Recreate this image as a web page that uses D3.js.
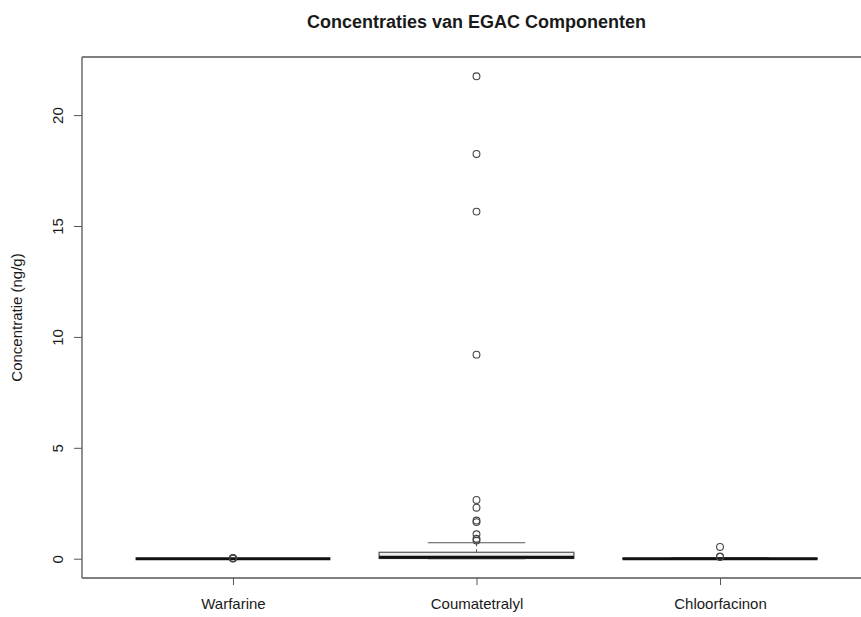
<!DOCTYPE html>
<html>
<head>
<meta charset="utf-8">
<script src="https://cdn.jsdelivr.net/npm/d3@7"></script>
<style>
  body { margin: 0; background: #fff; overflow: hidden; }
  svg { display: block; }
  text { font-family: "Liberation Sans", Arial, sans-serif; fill: #1a1a1a; }
</style>
</head>
<body>
<div id="chart"></div>
<script>
// boxplot summary per component
const categories = ['Warfarine', 'Coumatetralyl', 'Chloorfacinon'];
const whiskerLow = [0, 0, 0];
const q1s = [0, 0.01, 0];
const medians = [0, 0.07, 0];
const q3s = [0, 0.29, 0.01];
const whiskerHigh = [0, 0.72, 0.04];
const outliers = [
  [0.01, 0.02, 0.03],
  [21.75, 18.25, 15.65, 9.2, 2.65, 2.3, 1.72, 1.65, 1.1, 0.9, 0.82],
  [0.53, 0.1, 0.08]
];
const yTicks = [0, 5, 10, 15, 20];

const width = 861, height = 617;
const plot = { left: 82, right: 871, top: 57, bottom: 578 };

const svg = d3.select('#chart').append('svg')
  .attr('width', width)
  .attr('height', height);

const data = categories.map((c, i) => ({
  name: c, idx: i + 1,
  lo: whiskerLow[i], q1: q1s[i], med: medians[i], q3: q3s[i], hi: whiskerHigh[i],
  out: outliers[i]
}));

// R style 4% padding on both axes
const yMax = d3.max(data, d => d3.max([d.hi, ...d.out]));
const yMin = d3.min(data, d => d3.min([d.lo, ...d.out]));
const yPad = (yMax - yMin) * 0.04;
const y = d3.scaleLinear()
  .domain([yMin - yPad, yMax + yPad])
  .range([plot.bottom, plot.top]);

const xPad = 3 * 0.04;
const x = d3.scaleLinear()
  .domain([0.5 - xPad, categories.length + 0.5 + xPad])
  .range([plot.left, plot.right]);

const unit = x(2) - x(1);
const boxHalf = unit * 0.4;
const capHalf = unit * 0.2;
const lineCol = '#555';

// frame: right side falls outside the page, like the original
const frame = svg.append('g').attr('stroke', lineCol).attr('stroke-width', 1.3);
frame.append('line').attr('x1', plot.left).attr('x2', width + 5).attr('y1', plot.top).attr('y2', plot.top);
frame.append('line').attr('x1', plot.left).attr('x2', width + 5).attr('y1', plot.bottom).attr('y2', plot.bottom);
frame.append('line').attr('x1', plot.left).attr('x2', plot.left).attr('y1', plot.top).attr('y2', plot.bottom);

// y axis
const yAxis = svg.append('g')
  .attr('transform', `translate(${plot.left - 8},0)`)
  .call(d3.axisLeft(y).tickValues(yTicks).tickSize(8).tickSizeOuter(0));
yAxis.select('.domain').remove();
yAxis.selectAll('.tick line').attr('stroke', lineCol).attr('x1', 0).attr('x2', 8);
yAxis.selectAll('.tick text')
  .attr('transform', 'rotate(-90)')
  .attr('x', 0).attr('y', -16)
  .attr('dy', '0.32em')
  .attr('text-anchor', 'middle')
  .style('font-size', '15px');

// x axis
const xAxis = svg.append('g')
  .attr('transform', `translate(0,${plot.bottom})`)
  .call(d3.axisBottom(x).tickValues(data.map(d => d.idx))
    .tickFormat(i => categories[i - 1]).tickSize(7).tickSizeOuter(0));
xAxis.select('.domain').remove();
xAxis.selectAll('.tick line').attr('stroke', lineCol);
xAxis.selectAll('.tick text')
  .attr('y', 20)
  .attr('dy', '0.71em')
  .style('font-size', '15px');

// boxes
const g = svg.append('g');
data.forEach(d => {
  const cx = x(d.idx);
  // whiskers
  g.append('line')
    .attr('x1', cx).attr('x2', cx).attr('y1', y(d.q3)).attr('y2', y(d.hi))
    .attr('stroke', lineCol).attr('stroke-dasharray', '3,3');
  g.append('line')
    .attr('x1', cx).attr('x2', cx).attr('y1', y(d.q1)).attr('y2', y(d.lo))
    .attr('stroke', lineCol).attr('stroke-dasharray', '3,3');
  [d.lo, d.hi].forEach(v => {
    g.append('line')
      .attr('x1', cx - capHalf).attr('x2', cx + capHalf)
      .attr('y1', y(v)).attr('y2', y(v))
      .attr('stroke', lineCol).attr('stroke-width', 1.2);
  });
  g.append('rect')
    .attr('x', cx - boxHalf).attr('y', y(d.q3))
    .attr('width', boxHalf * 2).attr('height', Math.max(0, y(d.q1) - y(d.q3)))
    .attr('fill', '#eee').attr('stroke', lineCol).attr('stroke-width', 1.2);
  g.append('line')
    .attr('x1', cx - boxHalf).attr('x2', cx + boxHalf)
    .attr('y1', y(d.med)).attr('y2', y(d.med))
    .attr('stroke', '#111').attr('stroke-width', 3);
  g.selectAll(null)
    .data(d.out)
    .enter().append('circle')
    .attr('cx', cx).attr('cy', v => y(v))
    .attr('r', 3.4)
    .attr('fill', 'none')
    .attr('stroke', '#444')
    .attr('stroke-width', 1.1);
});

// title and y label
svg.append('text')
  .attr('x', (plot.left + plot.right) / 2).attr('y', 28)
  .attr('text-anchor', 'middle')
  .style('font-size', '18px').style('font-weight', 'bold')
  .text('Concentraties van EGAC Componenten');

svg.append('text')
  .attr('transform', `translate(22,${(plot.top + plot.bottom) / 2}) rotate(-90)`)
  .attr('text-anchor', 'middle')
  .style('font-size', '15px')
  .text('Concentratie (ng/g)');
</script>
</body>
</html>
